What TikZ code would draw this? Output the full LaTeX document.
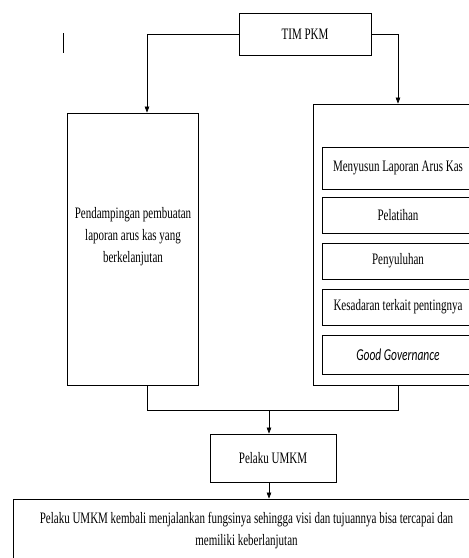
\documentclass[tikz,border=0pt]{standalone}
\usepackage{fontspec}
\usepackage{graphicx}
\setmainfont{Liberation Serif}
\newfontfamily\ggfont{Carlito}
\newcommand{\vstr}[1]{\scalebox{1}[1.45]{#1}}
\usetikzlibrary{arrows.meta,calc}
\begin{document}
\begin{tikzpicture}[x=1pt,y=-1pt,
  box/.style={draw, line width=0.8pt, rectangle, inner sep=0pt},
  txt/.style={align=center, font=\fontsize{11}{22}\selectfont},
  arr/.style={-{Triangle[length=6pt,width=4.5pt]}, line width=0.7pt},
  ln/.style={line width=0.7pt}]
\useasboundingbox (0,0) rectangle (469,558);
\clip (0,0) rectangle (469,558);
% stray mark
\coordinate (m1) at (63,33);
\coordinate (m2) at (63,53);
\draw[ln] (m1) -- (m2);
% TIM PKM
\node[box, minimum width=132pt, minimum height=42pt, txt] (tim) at (305,34) {\vstr{TIM PKM}};
% left box
\node[box, minimum width=131pt, minimum height=272pt] (lbox) at (132.5,249) {};
\node[txt] (ltxt) at (133,237) {\vstr{Pendampingan pembuatan}\\\vstr{laporan arus kas yang}\\\vstr{berkelanjutan}};
% right box
\node[box, minimum width=170pt, minimum height=281pt] (rbox) at (398,244.5) {};
\node[box, minimum width=152pt, minimum height=42pt, txt] (r1) at (398,168) {\vstr{Menyusun Laporan Arus Kas}};
\node[box, minimum width=152pt, minimum height=36pt, txt] (r2) at (398,215) {\vstr{Pelatihan}};
\node[box, minimum width=152pt, minimum height=36pt, txt] (r3) at (398,261) {\vstr{Penyuluhan}};
\node[box, minimum width=152pt, minimum height=36pt, txt] (r4) at (398,307) {\vstr{Kesadaran terkait pentingnya}};
\node[box, minimum width=152pt, minimum height=39pt, txt] (r5) at (398,354.5) {\vstr{\fontsize{11.5}{22}\selectfont\ggfont\itshape Good Governance}};
% Pelaku UMKM
\node[box, minimum width=126pt, minimum height=48pt, txt] (umkm) at (273,458) {\vstr{Pelaku UMKM}};
% bottom box
\node[box, minimum width=467pt, minimum height=63pt, txt] (bot) at (246.5,530.5) {\vstr{Pelaku UMKM kembali menjalankan fungsinya sehingga visi dan tujuannya bisa tercapai dan}\\\vstr{memiliki keberlanjutan}};
% connectors
\coordinate (lin) at ([xshift=14.5pt]lbox.north);
\coordinate (lout) at ([xshift=14.5pt]lbox.south);
\coordinate (j) at (269,410);
\draw[arr] (tim.west) -| (lin);
\draw[arr] (tim.east) -| (rbox.north);
\draw[ln] (lout) |- (j);
\draw[ln] (rbox.south) |- (j);
\draw[arr] (j) -- (j |- umkm.north);
\draw[arr] (j |- umkm.south) -- (j |- bot.north);
\end{tikzpicture}
\end{document}
